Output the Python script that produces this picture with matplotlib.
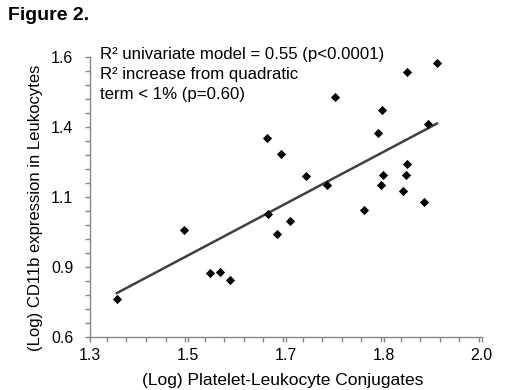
import numpy as np
import matplotlib
matplotlib.use("Agg")
import matplotlib.pyplot as plt
from matplotlib.ticker import FixedLocator, MultipleLocator

# Data
x_vals = [1.348, 1.468, 1.514, 1.532, 1.550, 1.618, 1.634, 1.617, 1.641,
          1.658, 1.686, 1.724, 1.738, 1.789, 1.814, 1.820, 1.822, 1.823,
          1.860, 1.864, 1.867, 1.867, 1.896, 1.904, 1.920]
y_vals = [0.734, 0.982, 0.829, 0.830, 0.803, 1.037, 0.966, 1.310, 1.253,
          1.013, 1.174, 1.143, 1.456, 1.052, 1.327, 1.141, 1.409, 1.176,
          1.119, 1.176, 1.546, 1.217, 1.082, 1.360, 1.576]

x_ticks = [1.3, 1.475, 1.65, 1.825, 2.0]
x_tick_labels = ["1.3", "1.5", "1.7", "1.8", "2.0"]
y_ticks = [0.6, 0.85, 1.1, 1.35, 1.6]
y_tick_labels = ["0.6", "0.9", "1.1", "1.4", "1.6"]

title = "Figure 2."
x_label = "(Log) Platelet-Leukocyte Conjugates"
y_label = "(Log) CD11b expression in Leukocytes"
annot_lines = ["R\u00b2 univariate model = 0.55 (p<0.0001)",
               "R\u00b2 increase from quadratic",
               "term < 1% (p=0.60)"]

plt.rcParams['font.family'] = ['Liberation Sans', 'DejaVu Sans']

W, H = 520, 390
fig = plt.figure(figsize=(5.2, 3.9), dpi=100)
ax = fig.add_axes([90 / W, 1 - 336.7 / H, 391.7 / W, 280 / H])

x = np.array(x_vals)
y = np.array(y_vals)
ax.scatter(x, y, marker='D', s=22, color='black', zorder=3, linewidths=0)

slope, intercept = np.polyfit(x, y, 1)
xl = np.array([x.min(), x.max()])
ax.plot(xl, slope * xl + intercept, color='#404040', lw=1.8, zorder=2)

ax.set_xlim(1.3, 2.0)
ax.set_ylim(0.6, 1.6)
ax.xaxis.set_major_locator(FixedLocator(x_ticks))
ax.xaxis.set_minor_locator(MultipleLocator(0.035))
ax.yaxis.set_major_locator(FixedLocator(y_ticks))
ax.yaxis.set_minor_locator(MultipleLocator(0.05))
ax.set_xticklabels(x_tick_labels)
ax.set_yticklabels(y_tick_labels)

for s in ['top', 'right']:
    ax.spines[s].set_visible(False)
for s in ['left', 'bottom']:
    ax.spines[s].set_color('#868686')
    ax.spines[s].set_linewidth(1.0)
ax.tick_params(which='both', direction='out', length=3.6, width=1.0,
               color='#868686', labelsize=11.5, labelcolor='black')
ax.tick_params(axis='x', which='both', pad=4.5)
ax.tick_params(axis='y', which='both', pad=8.5)

fig.text(283 / W, 1 - 384.5 / H, x_label, fontsize=12.5, ha='center',
         va='baseline')
fig.text(40.3 / W, 1 - 207.5 / H, y_label, fontsize=12, ha='center',
         va='baseline', rotation=90, rotation_mode='anchor')

baselines = [59, 79.3, 99.3]
for line, b in zip(annot_lines, baselines):
    fig.text(100 / W, 1 - b / H, line, fontsize=12.1,
             va='baseline', ha='left')

fig.text(8 / W, 1 - 20 / H, title, fontsize=14, fontweight='bold',
         va='baseline', ha='left')

fig.savefig("out.png", dpi=100)
